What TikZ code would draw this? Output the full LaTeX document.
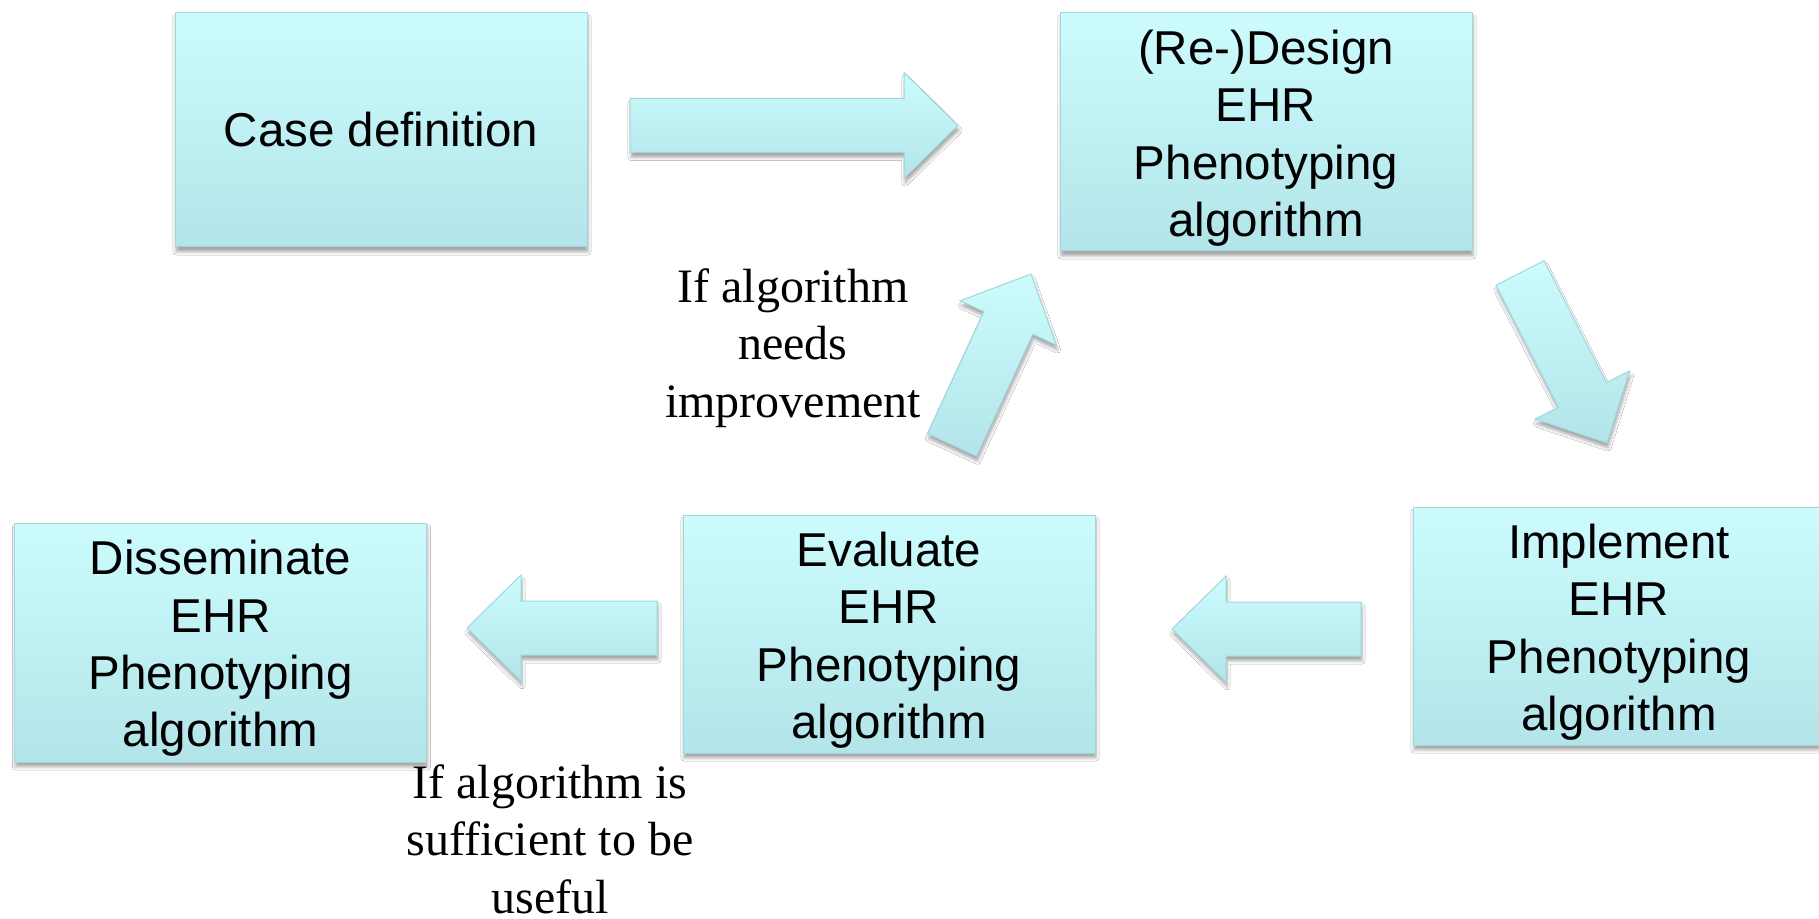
\documentclass[tikz,border=0pt]{standalone}
\usepackage{fontspec}
\setmainfont{Liberation Serif}
\setsansfont{Liberation Sans}
\usetikzlibrary{calc,shadows.blur}

\definecolor{celltop}{RGB}{204,252,253}
\definecolor{cellbot}{RGB}{178,228,233}
\definecolor{celledge}{RGB}{160,214,220}

\tikzset{
  softshadow/.style={blur shadow={shadow xshift=0.5pt, shadow yshift=-2.4pt,
      shadow blur radius=1.6pt, shadow opacity=35}},
  stage/.style={rectangle, draw=celledge, line width=0.5pt,
      top color=celltop, bottom color=cellbot,
      minimum width=206pt, inner sep=0pt, align=center,
      font=\sffamily\fontsize{23.75}{28.7}\selectfont, softshadow},
  note/.style={align=center, inner sep=0pt,
      font=\rmfamily\fontsize{24}{28.7}\selectfont},
  flow/.style={draw=celledge, line width=0.5pt,
      top color=celltop, bottom color=cellbot, softshadow},
}

% taller first line, so four-line texts sit a little lower in their boxes
\newcommand\firstlinestrut{\rule{0pt}{23.3pt}}

% block arrow from tail #1 to tip #2
\newcommand\flowarrow[2]{%
  \coordinate (#1-#2-h) at ($(#2)!27pt!(#1)$);
  \draw[flow] ($(#1)!13.5pt!90:(#2)$) -- ($(#1-#2-h)!13.5pt!90:(#2)$)
     -- ($(#1-#2-h)!26.5pt!90:(#2)$) -- (#2)
     -- ($(#1-#2-h)!26.5pt!-90:(#2)$) -- ($(#1-#2-h)!13.5pt!-90:(#2)$)
     -- ($(#1)!13.5pt!-90:(#2)$) -- cycle;
}

\begin{document}
\begin{tikzpicture}[x=0.5pt, y=-0.5pt]
  \path[use as bounding box, fill=white] (0,0) rectangle (1819,919);

  % process stages
  \node[stage, minimum height=117pt] (case) at (381,130) {Case definition};
  \node[stage, minimum height=119pt] (design) at (1266,132)
      {\firstlinestrut(Re-)Design\\EHR\\Phenotyping\\algorithm};
  \node[stage, minimum height=119pt] (impl) at (1619,626)
      {\firstlinestrut Implement\\EHR\\Phenotyping\\algorithm};
  \node[stage, minimum height=119pt] (eval) at (889,634)
      {\firstlinestrut Evaluate\\EHR\\Phenotyping\\algorithm};
  \node[stage, minimum height=119.5pt] (diss) at (220.5,642.5)
      {\firstlinestrut Disseminate\\EHR\\Phenotyping\\algorithm};

  % condition labels
  \node[note] (improve) at (793,348) {If algorithm\\needs\\improvement};
  \node[note] (useful) at (550,839) {If algorithm is\\sufficient to be\\useful};

  % arrow end points
  \coordinate (caseout) at (630,125.5);
  \coordinate (designin) at (958,125.5);
  \coordinate (designout) at (1520,273);
  \coordinate (implin) at (1607,443);
  \coordinate (implout) at (1361,629);
  \coordinate (evalin) at (1172,629);
  \coordinate (evalout) at (657,628);
  \coordinate (dissin) at (467,628);
  \coordinate (loopout) at (952,445);
  \coordinate (loopin) at (1031,274);

  \flowarrow{caseout}{designin}
  \flowarrow{designout}{implin}
  \flowarrow{implout}{evalin}
  \flowarrow{evalout}{dissin}
  \flowarrow{loopout}{loopin}
\end{tikzpicture}
\end{document}
